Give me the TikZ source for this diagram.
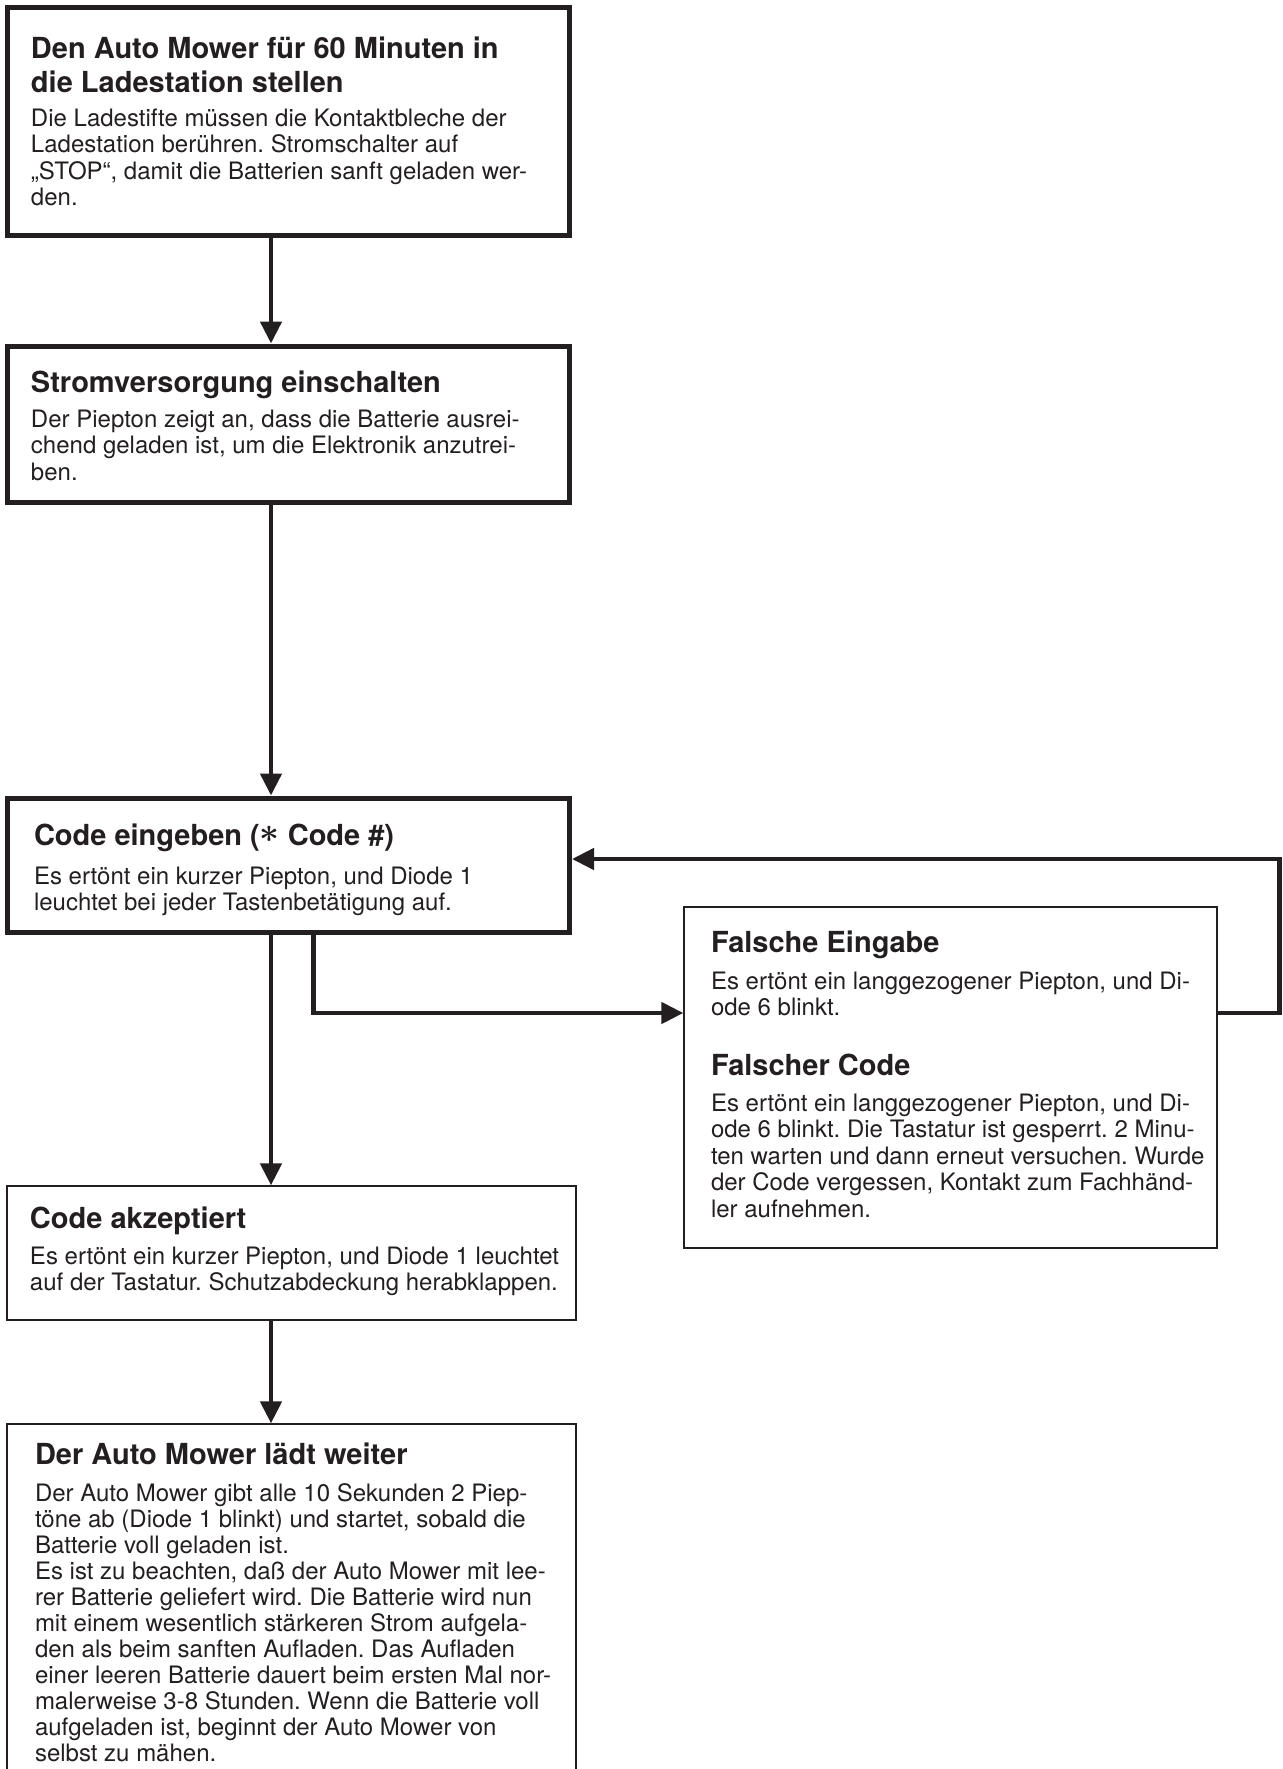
\documentclass[tikz,border=0pt]{standalone}
\usepackage{fontspec}
\setmainfont{TeX Gyre Heros}
\usetikzlibrary{arrows.meta}
\definecolor{ink}{HTML}{231F20}
\newcommand\btitle[2][17.25]{\parbox[t]{300pt}{\raggedright\frenchspacing\fontsize{14.5}{#1}\selectfont\bfseries #2}}
\newcommand\bbody[2][13.3]{\parbox[t]{300pt}{\raggedright\frenchspacing\fontsize{12}{#1}\selectfont #2}}
\newcommand\codestar{\raisebox{1.4pt}{\scalebox{1.2}{\boldmath$\ast$}}}
\begin{document}
\begin{tikzpicture}[x=0.5pt,y=-0.5pt,
  thickbox/.style={draw=ink, line width=2.5pt, rectangle, inner sep=0pt},
  thinbox/.style={draw=ink, line width=0.65pt, rectangle, inner sep=0pt},
  txt/.style={anchor=base west, inner sep=0pt, outer sep=0pt, text=ink},
  arr/.style={draw=ink, line width=2.3pt, -{Triangle[length=11pt,width=10.5pt]}}]
\useasboundingbox (0,0) rectangle (1282,1769);
\clip (0,0) rectangle (1282,1769);
% boxes
\node[thickbox, minimum width=281pt, minimum height=113.75pt] (b1) at (288.5,121.25) {};
\node[thickbox, minimum width=281pt, minimum height=78pt] (b2) at (288.5,424) {};
\node[thickbox, minimum width=281pt, minimum height=67pt] (b3) at (288.5,865) {};
\node[thinbox, minimum width=266.5pt, minimum height=170.5pt] (fal) at (950.5,1077.5) {};
\node[thinbox, minimum width=284.5pt, minimum height=67pt] (acc) at (291.5,1253) {};
\node[thinbox, minimum width=284.5pt, minimum height=188pt] (last) at (291.5,1612) {};
% texts
\node[txt] (t1) at (31,58) {\btitle{Den Auto Mower für 60 Minuten in\\die Ladestation stellen}};
\node[txt] (d1) at (31,126) {\bbody{Die Ladestifte müssen die Kontaktbleche der\\Ladestation berühren. Stromschalter auf\\„STOP“, damit die Batterien sanft geladen wer-\\den.}};
\node[txt] (t2) at (31,392) {\btitle{Stromversorgung einschalten}};
\node[txt] (d2) at (31,427) {\bbody{Der Piepton zeigt an, dass die Batterie ausrei-\\chend geladen ist, um die Elektronik anzutrei-\\ben.}};
\node[txt] (t3) at (34,845) {\btitle{Code eingeben (\codestar\ Code \#)}};
\node[txt] (d3) at (34,884) {\bbody{Es ertönt ein kurzer Piepton, und Diode 1\\leuchtet bei jeder Tastenbetätigung auf.}};
\node[txt] (t4) at (711,952) {\btitle{Falsche Eingabe}};
\node[txt] (d4) at (711,989) {\bbody{Es ertönt ein langgezogener Piepton, und Di-\\ode 6 blinkt.}};
\node[txt] (t5) at (711,1075) {\btitle{Falscher Code}};
\node[txt] (d5) at (711,1111) {\bbody{Es ertönt ein langgezogener Piepton, und Di-\\ode 6 blinkt. Die Tastatur ist gesperrt. 2 Minu-\\ten warten und dann erneut versuchen. Wurde\\der Code vergessen, Kontakt zum Fachhänd-\\ler aufnehmen.}};
\node[txt] (t6) at (30,1228) {\btitle{Code akzeptiert}};
\node[txt] (d6) at (30,1264) {\bbody{Es ertönt ein kurzer Piepton, und Diode 1 leuchtet\\auf der Tastatur. Schutzabdeckung herabklappen.}};
\node[txt] (t7) at (35,1464) {\btitle{Der Auto Mower lädt weiter}};
\node[txt] (d7) at (35,1501) {\bbody[13]{Der Auto Mower gibt alle 10 Sekunden 2 Piep-\\töne ab (Diode 1 blinkt) und startet, sobald die\\Batterie voll geladen ist.\\Es ist zu beachten, daß der Auto Mower mit lee-\\rer Batterie geliefert wird. Die Batterie wird nun\\mit einem wesentlich stärkeren Strom aufgela-\\den als beim sanften Aufladen. Das Aufladen\\einer leeren Batterie dauert beim ersten Mal nor-\\malerweise 3-8 Stunden. Wenn die Batterie voll\\aufgeladen ist, beginnt der Auto Mower von\\selbst zu mähen.}};
% connector guides
\coordinate (colA) at (271,0);
\coordinate (colB) at (313.5,0);
\coordinate (colR) at (1279.5,0);
\coordinate (rowL) at (0,1013);
\coordinate (rowU) at (0,859);
% connectors
\draw[arr] (b1.south -| colA) -- (b2.north -| colA);
\draw[arr] (b2.south -| colA) -- (b3.north -| colA);
\draw[arr] (b3.south -| colA) -- (acc.north -| colA);
\draw[arr] (acc.south -| colA) -- (last.north -| colA);
\draw[arr] (b3.south -| colB) |- (fal.west |- rowL);
\draw[arr] (fal.east |- rowL) -| (colR |- rowU) -- (b3.east |- rowU);
\end{tikzpicture}
\end{document}
